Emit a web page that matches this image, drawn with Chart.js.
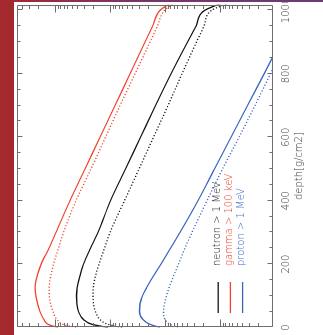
<!DOCTYPE html>
<html>
<head>
<meta charset="utf-8">
<title>Fluxo por profundidade</title>
<script src="https://cdn.jsdelivr.net/npm/chart.js@4.4.0/dist/chart.umd.min.js"></script>
<style>
	html, body { margin: 0; padding: 0; background: #fff; overflow: hidden; }
	body { width: 323px; height: 335px; position: relative; }
	.faixa { position: absolute; left: 0; top: 0; width: 14px; height: 335px; background: #a3292d; z-index: 2; }
	.topo { position: absolute; left: 0; top: 0; width: 323px; height: 2px; background: linear-gradient(to right, #a3292d, #7a3468 40%, #6c3c78); z-index: 2; }
	/* o grafico e desenhado deitado e girado 90 graus */
	.grafico { position: absolute; left: -6px; top: 6px; width: 335px; height: 323px; transform: rotate(-90deg); }
</style>
</head>
<body>
<div class="faixa"></div>
<div class="topo"></div>
<div class="grafico"><canvas id="graficoFluxo" width="335" height="323"></canvas></div>
<script>
var profundidades = [0, 10, 25, 50, 75, 100, 125, 150, 200, 250, 300, 400, 500, 600, 700, 800, 900, 950, 1000, 1030];

var neutronSolido = [0.1087, 0.2125, 0.3032, 0.3738, 0.4015, 0.4066, 0.3949, 0.3692, 0.3032, 0.2262, 0.1653, 0.0979, 0.0523, 0.0279, 0.01489, 0.00778, 0.0039, 0.00273, 0.00191, 0.000715];
var neutronPontilhado = [0.0605, 0.1087, 0.152, 0.1835, 0.1995, 0.2038, 0.2012, 0.1913, 0.1585, 0.1259, 0.1, 0.0545, 0.0297, 0.01619, 0.00882, 0.00491, 0.00268, 0.00196, 0.001427, 0.000512];
var gamaSolido = [0.882, 1.341, 1.585, 1.874, 2.081, 2.234, 2.291, 2.215, 1.782, 1.286, 0.959, 0.534, 0.285, 0.152, 0.0811, 0.0433, 0.0231, 0.01686, 0.0123, 0.00686];
var gamaPontilhado = [0.415, 0.715, 0.92, 1.087, 1.207, 1.269, 1.275, 1.233, 1.065, 0.864, 0.7, 0.415, 0.2215, 0.1207, 0.0658, 0.0351, 0.01874, 0.01383, 0.01021, 0.00605];
var protonSolido = [0.01233, 0.01874, 0.0251, 0.0291, 0.02848, 0.02565, 0.0217, 0.01797, 0.01182, 0.00794, 0.00534, 0.00251, 0.00126, 0.000631, 0.000316, 0.000158, 0.0000794, 0.0000562, 0.0000398, 0.0000187];
var protonPontilhado = [0.0058, 0.00811, 0.01, 0.01065, 0.01021, 0.00939, 0.00846, 0.00746, 0.00568, 0.00433, 0.00323, 0.00172, 0.0009, 0.000451, 0.000231, 0.000121, 0.0000631, 0.0000451, 0.0000323, 0.0000152];

var rotulosProfundidade = [0, 200, 400, 600, 800, 1000];
var legendas = ['neutron > 1 MeV', 'gamma > 100 keV', 'proton > 1 MeV'];

var Atmosfera = Atmosfera || {};

/* Moldura do grafico com tracos para dentro, nos quatro lados. */
Atmosfera.moldura = {
	id: 'moldura',
	afterDatasetsDraw: function(chart) {
		var ctx = chart.ctx;
		var area = chart.chartArea;
		var x = chart.scales.x;
		var y = chart.scales.y;
		var esq = Math.round(area.left) + 0.5, dir = Math.round(area.right) - 0.5;
		var cima = Math.round(area.top) + 0.5, baixo = Math.round(area.bottom) - 0.5;

		ctx.save();
		ctx.strokeStyle = '#6e6e6e';
		ctx.lineWidth = 1;
		ctx.beginPath();
		ctx.rect(esq, cima, dir - esq, baixo - cima);

		// profundidade: traco a cada 50, maior a cada 200
		for (var d = 0; d <= 1000; d += 50) {
			var px = Math.round(x.getPixelForValue(d)) + 0.5;
			var t = d % 200 === 0 ? 5 : 3;
			ctx.moveTo(px, cima); ctx.lineTo(px, cima + t);
			ctx.moveTo(px, baixo); ctx.lineTo(px, baixo - t);
		}

		// fluxo: decadas com traco longo
		for (var e = -5; e <= 1; e++) {
			for (var k = 1; k <= 9; k++) {
				var v = k * Math.pow(10, e);
				if (v < y.min || v > y.max) continue;
				var py = Math.round(y.getPixelForValue(v)) + 0.5;
				var l = k === 1 ? 7 : 3.5;
				ctx.moveTo(esq, py); ctx.lineTo(esq + l, py);
				ctx.moveTo(dir, py); ctx.lineTo(dir - l, py);
			}
		}
		ctx.stroke();
		ctx.restore();
	}
};

/* Legenda dentro da area, com o traco e o texto na cor da serie. */
Atmosfera.legenda = {
	id: 'legendaInterna',
	afterDraw: function(chart) {
		var ctx = chart.ctx;
		var area = chart.chartArea;
		var series = chart.data.datasets.filter(function(ds) { return ds.naLegenda; });

		ctx.save();
		ctx.font = '200 10px "DejaVu Sans"';
		ctx.textBaseline = 'alphabetic';
		series.forEach(function(ds, i) {
			var yy = area.bottom - 54.5 + i * 12.2;
			var x0 = area.left + 14.5;
			ctx.strokeStyle = ds.borderColor;
			ctx.lineWidth = 1.3;
			ctx.beginPath();
			ctx.moveTo(x0, yy);
			ctx.lineTo(x0 + 31, yy);
			ctx.stroke();
			ctx.fillStyle = ds.corTexto;
			ctx.fillText(ds.label, x0 + 47, yy + 1.5);
		});
		ctx.restore();
	}
};

Atmosfera.GraficoFluxo = (function() {

	function pontos(serie) {
		return profundidades.map(function(d, i) {
			return { x: d, y: serie[i] };
		});
	}

	function serie(rotulo, valores, cor, pontilhada, corTexto) {
		return {
			label: rotulo,
			data: pontos(valores),
			borderColor: cor,
			borderWidth: 1.3,
			borderDash: pontilhada ? [1.2, 2] : [],
			pointRadius: 0,
			fill: false,
			cubicInterpolationMode: 'monotone',
			naLegenda: !pontilhada,
			corTexto: corTexto
		};
	}

	function GraficoFluxo() {
		this.ctx = document.getElementById('graficoFluxo').getContext('2d');
	}

	GraficoFluxo.prototype.iniciar = function() {
		Chart.defaults.font.family = '"DejaVu Sans", sans-serif';

		var grafico = new Chart(this.ctx, {
			type: 'line',
			data: {
				datasets: [
					serie(legendas[0], neutronSolido, '#111111', false, '#1e1e1e'),
					serie(legendas[1], gamaSolido, '#f2402c', false, '#ec3c28'),
					serie(legendas[2], protonSolido, '#3a66c0', false, '#3f68c4'),
					serie('', neutronPontilhado, '#111111', true),
					serie('', gamaPontilhado, '#f2402c', true),
					serie('', protonPontilhado, '#3a66c0', true)
				]
			},
			options: {
				responsive: false,
				animation: false,
				events: [],
				layout: { padding: { left: 7.5, right: 4.7, top: 17.3, bottom: 17.8 } },
				plugins: {
					legend: { display: false },
					tooltip: { enabled: false }
				},
				scales: {
					x: {
						type: 'linear',
						min: 0,
						max: 1018,
						grid: { display: false, drawTicks: false },
						border: { display: false },
						afterBuildTicks: function(escala) {
							escala.ticks = rotulosProfundidade.map(function(v) { return { value: v }; });
						},
						afterFit: function(escala) {
							escala.paddingLeft = 0;
							escala.paddingRight = 0;
						},
						ticks: {
							padding: 8,
							color: '#333',
							font: { size: 10, weight: '200' },
							maxRotation: 0,
							autoSkip: false,
							callback: function(v) { return String(v); }
						},
						title: {
							display: true,
							text: 'depth[g/cm2]',
							color: '#333',
							font: { size: 10, weight: '200' },
							padding: { top: -7.5, bottom: 0 }
						}
					},
					y: {
						type: 'logarithmic',
						min: 1.1e-4,
						max: 4.85,
						display: false
					}
				}
			},
			plugins: [Atmosfera.moldura, Atmosfera.legenda]
		});
	};

	return GraficoFluxo;

}());

var graficoFluxo = new Atmosfera.GraficoFluxo();
graficoFluxo.iniciar();
</script>
</body>
</html>
